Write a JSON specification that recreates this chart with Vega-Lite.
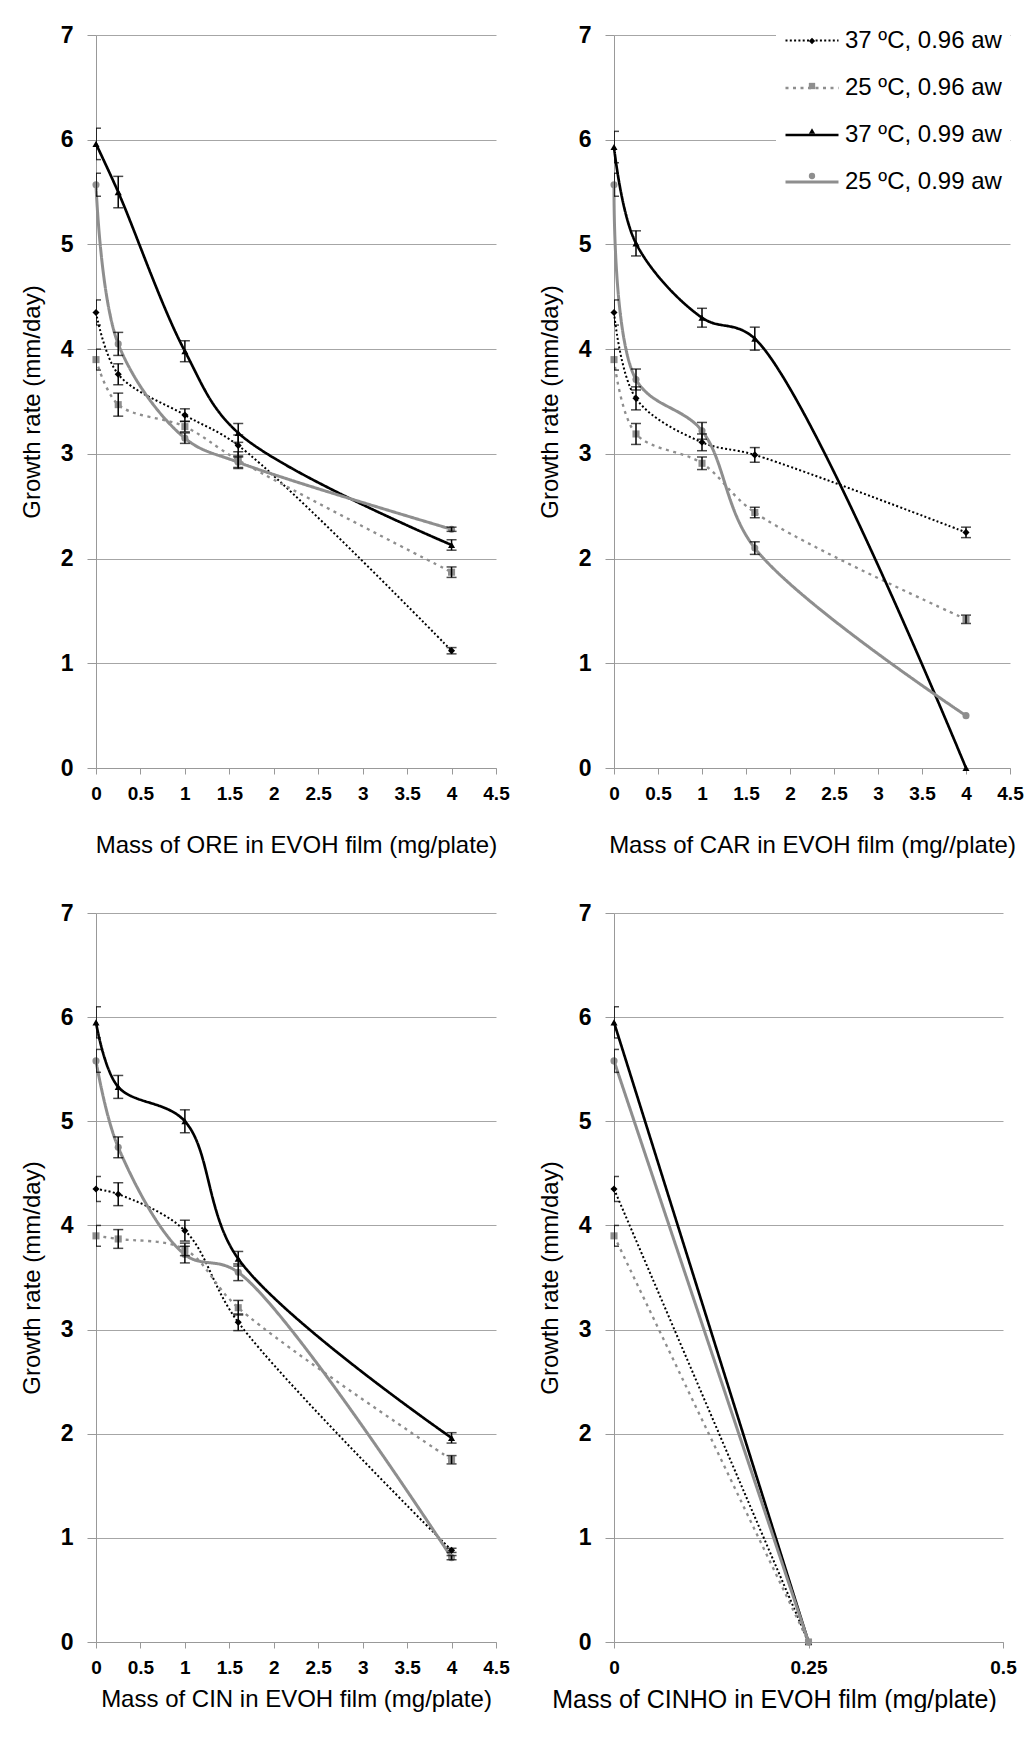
{
  "$schema": "https://vega.github.io/schema/vega-lite/v6.json",
  "background": "white",
  "padding": {"left": 20, "top": 5, "right": 0, "bottom": 0},
  "datasets": {
    "growth": [
      {"panel": "ORE", "series": "37 ºC, 0.96 aw", "mass": 0, "rate": 4.35, "err": 0.12},
      {"panel": "ORE", "series": "37 ºC, 0.96 aw", "mass": 0.25, "rate": 3.76, "err": 0.10},
      {"panel": "ORE", "series": "37 ºC, 0.96 aw", "mass": 1, "rate": 3.37, "err": 0.06},
      {"panel": "ORE", "series": "37 ºC, 0.96 aw", "mass": 1.6, "rate": 3.08, "err": 0.10},
      {"panel": "ORE", "series": "37 ºC, 0.96 aw", "mass": 4, "rate": 1.12, "err": 0.03},
      {"panel": "ORE", "series": "25 ºC, 0.96 aw", "mass": 0, "rate": 3.90, "err": 0.10},
      {"panel": "ORE", "series": "25 ºC, 0.96 aw", "mass": 0.25, "rate": 3.47, "err": 0.11},
      {"panel": "ORE", "series": "25 ºC, 0.96 aw", "mass": 1, "rate": 3.26, "err": 0.05},
      {"panel": "ORE", "series": "25 ºC, 0.96 aw", "mass": 1.6, "rate": 2.94, "err": 0.08},
      {"panel": "ORE", "series": "25 ºC, 0.96 aw", "mass": 4, "rate": 1.87, "err": 0.05},
      {"panel": "ORE", "series": "37 ºC, 0.99 aw", "mass": 0, "rate": 5.96, "err": 0.15},
      {"panel": "ORE", "series": "37 ºC, 0.99 aw", "mass": 0.25, "rate": 5.50, "err": 0.15},
      {"panel": "ORE", "series": "37 ºC, 0.99 aw", "mass": 1, "rate": 3.98, "err": 0.10},
      {"panel": "ORE", "series": "37 ºC, 0.99 aw", "mass": 1.6, "rate": 3.20, "err": 0.09},
      {"panel": "ORE", "series": "37 ºC, 0.99 aw", "mass": 4, "rate": 2.13, "err": 0.05},
      {"panel": "ORE", "series": "25 ºC, 0.99 aw", "mass": 0, "rate": 5.57, "err": 0.11},
      {"panel": "ORE", "series": "25 ºC, 0.99 aw", "mass": 0.25, "rate": 4.05, "err": 0.11},
      {"panel": "ORE", "series": "25 ºC, 0.99 aw", "mass": 1, "rate": 3.15, "err": 0.05},
      {"panel": "ORE", "series": "25 ºC, 0.99 aw", "mass": 1.6, "rate": 2.92, "err": 0.05},
      {"panel": "ORE", "series": "25 ºC, 0.99 aw", "mass": 4, "rate": 2.28, "err": 0.02},

      {"panel": "CAR", "series": "37 ºC, 0.96 aw", "mass": 0, "rate": 4.35, "err": 0.12},
      {"panel": "CAR", "series": "37 ºC, 0.96 aw", "mass": 0.25, "rate": 3.53, "err": 0.11},
      {"panel": "CAR", "series": "37 ºC, 0.96 aw", "mass": 1, "rate": 3.11, "err": 0.08},
      {"panel": "CAR", "series": "37 ºC, 0.96 aw", "mass": 1.6, "rate": 2.99, "err": 0.07},
      {"panel": "CAR", "series": "37 ºC, 0.96 aw", "mass": 4, "rate": 2.25, "err": 0.05},
      {"panel": "CAR", "series": "25 ºC, 0.96 aw", "mass": 0, "rate": 3.90, "err": 0.10},
      {"panel": "CAR", "series": "25 ºC, 0.96 aw", "mass": 0.25, "rate": 3.19, "err": 0.10},
      {"panel": "CAR", "series": "25 ºC, 0.96 aw", "mass": 1, "rate": 2.91, "err": 0.06},
      {"panel": "CAR", "series": "25 ºC, 0.96 aw", "mass": 1.6, "rate": 2.44, "err": 0.05},
      {"panel": "CAR", "series": "25 ºC, 0.96 aw", "mass": 4, "rate": 1.42, "err": 0.04},
      {"panel": "CAR", "series": "37 ºC, 0.99 aw", "mass": 0, "rate": 5.93, "err": 0.15},
      {"panel": "CAR", "series": "37 ºC, 0.99 aw", "mass": 0.25, "rate": 5.01, "err": 0.12},
      {"panel": "CAR", "series": "37 ºC, 0.99 aw", "mass": 1, "rate": 4.30, "err": 0.09},
      {"panel": "CAR", "series": "37 ºC, 0.99 aw", "mass": 1.6, "rate": 4.10, "err": 0.11},
      {"panel": "CAR", "series": "37 ºC, 0.99 aw", "mass": 4, "rate": 0, "err": 0},
      {"panel": "CAR", "series": "25 ºC, 0.99 aw", "mass": 0, "rate": 5.57, "err": 0.11},
      {"panel": "CAR", "series": "25 ºC, 0.99 aw", "mass": 0.25, "rate": 3.71, "err": 0.10},
      {"panel": "CAR", "series": "25 ºC, 0.99 aw", "mass": 1, "rate": 3.22, "err": 0.08},
      {"panel": "CAR", "series": "25 ºC, 0.99 aw", "mass": 1.6, "rate": 2.10, "err": 0.06},
      {"panel": "CAR", "series": "25 ºC, 0.99 aw", "mass": 4, "rate": 0.50, "err": 0},

      {"panel": "CIN", "series": "37 ºC, 0.96 aw", "mass": 0, "rate": 4.35, "err": 0.12},
      {"panel": "CIN", "series": "37 ºC, 0.96 aw", "mass": 0.25, "rate": 4.30, "err": 0.11},
      {"panel": "CIN", "series": "37 ºC, 0.96 aw", "mass": 1, "rate": 3.95, "err": 0.10},
      {"panel": "CIN", "series": "37 ºC, 0.96 aw", "mass": 1.6, "rate": 3.07, "err": 0.08},
      {"panel": "CIN", "series": "37 ºC, 0.96 aw", "mass": 4, "rate": 0.88, "err": 0.02},
      {"panel": "CIN", "series": "25 ºC, 0.96 aw", "mass": 0, "rate": 3.90, "err": 0.10},
      {"panel": "CIN", "series": "25 ºC, 0.96 aw", "mass": 0.25, "rate": 3.87, "err": 0.09},
      {"panel": "CIN", "series": "25 ºC, 0.96 aw", "mass": 1, "rate": 3.77, "err": 0.06},
      {"panel": "CIN", "series": "25 ºC, 0.96 aw", "mass": 1.6, "rate": 3.21, "err": 0.07},
      {"panel": "CIN", "series": "25 ºC, 0.96 aw", "mass": 4, "rate": 1.75, "err": 0.04},
      {"panel": "CIN", "series": "37 ºC, 0.99 aw", "mass": 0, "rate": 5.95, "err": 0.15},
      {"panel": "CIN", "series": "37 ºC, 0.99 aw", "mass": 0.25, "rate": 5.33, "err": 0.11},
      {"panel": "CIN", "series": "37 ºC, 0.99 aw", "mass": 1, "rate": 5.00, "err": 0.11},
      {"panel": "CIN", "series": "37 ºC, 0.99 aw", "mass": 1.6, "rate": 3.68, "err": 0.07},
      {"panel": "CIN", "series": "37 ºC, 0.99 aw", "mass": 4, "rate": 1.96, "err": 0.05},
      {"panel": "CIN", "series": "25 ºC, 0.99 aw", "mass": 0, "rate": 5.58, "err": 0.11},
      {"panel": "CIN", "series": "25 ºC, 0.99 aw", "mass": 0.25, "rate": 4.75, "err": 0.10},
      {"panel": "CIN", "series": "25 ºC, 0.99 aw", "mass": 1, "rate": 3.72, "err": 0.08},
      {"panel": "CIN", "series": "25 ºC, 0.99 aw", "mass": 1.6, "rate": 3.55, "err": 0.08},
      {"panel": "CIN", "series": "25 ºC, 0.99 aw", "mass": 4, "rate": 0.81, "err": 0.02},

      {"panel": "CINHO", "series": "37 ºC, 0.96 aw", "mass": 0, "rate": 4.35, "err": 0.12},
      {"panel": "CINHO", "series": "37 ºC, 0.96 aw", "mass": 0.25, "rate": 0, "err": 0},
      {"panel": "CINHO", "series": "25 ºC, 0.96 aw", "mass": 0, "rate": 3.90, "err": 0.10},
      {"panel": "CINHO", "series": "25 ºC, 0.96 aw", "mass": 0.25, "rate": 0, "err": 0},
      {"panel": "CINHO", "series": "37 ºC, 0.99 aw", "mass": 0, "rate": 5.95, "err": 0.15},
      {"panel": "CINHO", "series": "37 ºC, 0.99 aw", "mass": 0.25, "rate": 0, "err": 0},
      {"panel": "CINHO", "series": "25 ºC, 0.99 aw", "mass": 0, "rate": 5.58, "err": 0.11},
      {"panel": "CINHO", "series": "25 ºC, 0.99 aw", "mass": 0.25, "rate": 0, "err": 0}
    ]
  },
  "data": {"name": "growth"},
  "columns": 2,
  "spacing": {"column": 28, "row": 45},
  "resolve": {
    "scale": {"x": "independent"},
    "legend": {"stroke": "independent", "strokeDash": "independent", "strokeWidth": "independent", "shape": "independent", "fill": "independent"}
  },
  "concat": [
    {
      "width": 400, "height": 733,
      "transform": [{"filter": "datum.panel === 'ORE'"}],
      "encoding": {
        "x": {"field": "mass", "type": "quantitative", "scale": {"domain": [0, 4.5], "nice": false}, "axis": {"values": [0, 0.5, 1, 1.5, 2, 2.5, 3, 3.5, 4, 4.5], "format": ".1~f", "title": "Mass of ORE in EVOH film (mg/plate)"}},
        "y": {"field": "rate", "type": "quantitative", "scale": {"domain": [0, 7], "nice": false}, "axis": {"values": [0, 1, 2, 3, 4, 5, 6, 7], "format": "d", "title": "Growth rate (mm/day)"}}
      },
      "layer": [
        {
          "mark": {"type": "line", "interpolate": "catmull-rom"},
          "encoding": {
            "stroke": {"field": "series", "type": "nominal", "scale": {"domain": ["37 ºC, 0.96 aw", "25 ºC, 0.96 aw", "37 ºC, 0.99 aw", "25 ºC, 0.99 aw"], "range": ["#000000", "#8e8e8e", "#000000", "#8e8e8e"]}, "legend": null},
            "strokeDash": {"field": "series", "type": "nominal", "scale": {"domain": ["37 ºC, 0.96 aw", "25 ºC, 0.96 aw", "37 ºC, 0.99 aw", "25 ºC, 0.99 aw"], "range": [[2, 2.3], [3, 4.5], [1, 0], [1, 0]]}, "legend": null},
            "strokeWidth": {"field": "series", "type": "ordinal", "scale": {"domain": ["37 ºC, 0.96 aw", "25 ºC, 0.96 aw", "37 ºC, 0.99 aw", "25 ºC, 0.99 aw"], "range": [2, 3, 2, 1.5]}, "legend": null}
          }
        },
        {
          "mark": {"type": "point", "filled": true, "size": 50, "opacity": 1, "strokeWidth": 0},
          "encoding": {
            "shape": {"field": "series", "type": "nominal", "scale": {"domain": ["25 ºC, 0.99 aw", "37 ºC, 0.99 aw", "25 ºC, 0.96 aw", "37 ºC, 0.96 aw"], "range": ["circle", "triangle-up", "square", "diamond"]}, "legend": null},
            "fill": {"field": "series", "type": "nominal", "scale": {"domain": ["25 ºC, 0.99 aw", "37 ºC, 0.99 aw", "25 ºC, 0.96 aw", "37 ºC, 0.96 aw"], "range": ["#8e8e8e", "#000000", "#8e8e8e", "#000000"]}, "legend": null}
          }
        },
        {
          "transform": [{"filter": "datum.err > 0"}],
          "mark": {"type": "errorbar", "ticks": true, "size": 10, "thickness": 1.5, "color": "black", "clip": true},
          "encoding": {"yError": {"field": "err"}}
        }
      ]
    },
    {
      "width": 396, "height": 733,
      "transform": [{"filter": "datum.panel === 'CAR'"}],
      "encoding": {
        "x": {"field": "mass", "type": "quantitative", "scale": {"domain": [0, 4.5], "nice": false}, "axis": {"values": [0, 0.5, 1, 1.5, 2, 2.5, 3, 3.5, 4, 4.5], "format": ".1~f", "title": "Mass of CAR in EVOH film (mg//plate)"}},
        "y": {"field": "rate", "type": "quantitative", "scale": {"domain": [0, 7], "nice": false}, "axis": {"values": [0, 1, 2, 3, 4, 5, 6, 7], "format": "d", "title": "Growth rate (mm/day)"}}
      },
      "layer": [
        {
          "mark": {"type": "line", "interpolate": "catmull-rom"},
          "encoding": {
            "stroke": {"field": "series", "type": "nominal", "scale": {"domain": ["37 ºC, 0.96 aw", "25 ºC, 0.96 aw", "37 ºC, 0.99 aw", "25 ºC, 0.99 aw"], "range": ["#000000", "#8e8e8e", "#000000", "#8e8e8e"]},
              "legend": {"orient": "none", "legendX": 162, "legendY": -30, "title": null, "symbolType": "stroke", "symbolSize": 2809, "labelFontSize": 24, "labelFont": "Liberation Sans", "labelColor": "black", "labelOffset": 5, "labelLimit": 400, "rowPadding": 7, "padding": 8, "fillColor": "white", "zindex": 1}},
            "strokeDash": {"field": "series", "type": "nominal", "scale": {"domain": ["37 ºC, 0.96 aw", "25 ºC, 0.96 aw", "37 ºC, 0.99 aw", "25 ºC, 0.99 aw"], "range": [[2, 2.3], [3, 4.5], [1, 0], [1, 0]]},
              "legend": {"orient": "none", "legendX": 162, "legendY": -30, "title": null, "symbolType": "stroke", "symbolSize": 2809, "labelFontSize": 24, "labelFont": "Liberation Sans", "labelColor": "black", "labelOffset": 5, "labelLimit": 400, "rowPadding": 7, "padding": 8, "fillColor": "white", "zindex": 1}},
            "strokeWidth": {"field": "series", "type": "ordinal", "scale": {"domain": ["37 ºC, 0.96 aw", "25 ºC, 0.96 aw", "37 ºC, 0.99 aw", "25 ºC, 0.99 aw"], "range": [2, 3, 2, 1.5]},
              "legend": {"orient": "none", "legendX": 162, "legendY": -30, "title": null, "symbolType": "stroke", "symbolSize": 2809, "labelFontSize": 24, "labelFont": "Liberation Sans", "labelColor": "black", "labelOffset": 5, "labelLimit": 400, "rowPadding": 7, "padding": 8, "fillColor": "white", "zindex": 1}}
          }
        },
        {
          "mark": {"type": "point", "filled": true, "size": 50, "opacity": 1, "strokeWidth": 0},
          "encoding": {
            "shape": {"field": "series", "type": "nominal", "scale": {"domain": ["25 ºC, 0.99 aw", "37 ºC, 0.99 aw", "25 ºC, 0.96 aw", "37 ºC, 0.96 aw"], "range": ["circle", "triangle-up", "square", "diamond"]},
              "legend": {"orient": "none", "legendX": 186, "legendY": -6, "values": ["37 ºC, 0.96 aw", "25 ºC, 0.96 aw", "37 ºC, 0.99 aw", "25 ºC, 0.99 aw"], "title": null, "symbolSize": 40, "symbolStrokeWidth": 0, "labelFontSize": 24, "labelFont": "Liberation Sans", "labelExpr": "' '", "labelOpacity": 0, "labelLimit": 400, "rowPadding": 21, "padding": 0, "zindex": 2}},
            "fill": {"field": "series", "type": "nominal", "scale": {"domain": ["25 ºC, 0.99 aw", "37 ºC, 0.99 aw", "25 ºC, 0.96 aw", "37 ºC, 0.96 aw"], "range": ["#8e8e8e", "#000000", "#8e8e8e", "#000000"]},
              "legend": {"orient": "none", "legendX": 186, "legendY": -6, "values": ["37 ºC, 0.96 aw", "25 ºC, 0.96 aw", "37 ºC, 0.99 aw", "25 ºC, 0.99 aw"], "title": null, "symbolSize": 40, "symbolStrokeWidth": 0, "labelFontSize": 24, "labelFont": "Liberation Sans", "labelExpr": "' '", "labelOpacity": 0, "labelLimit": 400, "rowPadding": 21, "padding": 0, "zindex": 2}}
          }
        },
        {
          "transform": [{"filter": "datum.err > 0"}],
          "mark": {"type": "errorbar", "ticks": true, "size": 10, "thickness": 1.5, "color": "black", "clip": true},
          "encoding": {"yError": {"field": "err"}}
        }
      ]
    },
    {
      "width": 400, "height": 729,
      "transform": [{"filter": "datum.panel === 'CIN'"}],
      "encoding": {
        "x": {"field": "mass", "type": "quantitative", "scale": {"domain": [0, 4.5], "nice": false}, "axis": {"values": [0, 0.5, 1, 1.5, 2, 2.5, 3, 3.5, 4, 4.5], "format": ".1~f", "title": "Mass of CIN in EVOH film (mg/plate)", "titlePadding": 10}},
        "y": {"field": "rate", "type": "quantitative", "scale": {"domain": [0, 7], "nice": false}, "axis": {"values": [0, 1, 2, 3, 4, 5, 6, 7], "format": "d", "title": "Growth rate (mm/day)"}}
      },
      "layer": [
        {
          "mark": {"type": "line", "interpolate": "catmull-rom"},
          "encoding": {
            "stroke": {"field": "series", "type": "nominal", "scale": {"domain": ["37 ºC, 0.96 aw", "25 ºC, 0.96 aw", "37 ºC, 0.99 aw", "25 ºC, 0.99 aw"], "range": ["#000000", "#8e8e8e", "#000000", "#8e8e8e"]}, "legend": null},
            "strokeDash": {"field": "series", "type": "nominal", "scale": {"domain": ["37 ºC, 0.96 aw", "25 ºC, 0.96 aw", "37 ºC, 0.99 aw", "25 ºC, 0.99 aw"], "range": [[2, 2.3], [3, 4.5], [1, 0], [1, 0]]}, "legend": null},
            "strokeWidth": {"field": "series", "type": "ordinal", "scale": {"domain": ["37 ºC, 0.96 aw", "25 ºC, 0.96 aw", "37 ºC, 0.99 aw", "25 ºC, 0.99 aw"], "range": [2, 3, 2, 1.5]}, "legend": null}
          }
        },
        {
          "mark": {"type": "point", "filled": true, "size": 50, "opacity": 1, "strokeWidth": 0},
          "encoding": {
            "shape": {"field": "series", "type": "nominal", "scale": {"domain": ["25 ºC, 0.99 aw", "37 ºC, 0.99 aw", "25 ºC, 0.96 aw", "37 ºC, 0.96 aw"], "range": ["circle", "triangle-up", "square", "diamond"]}, "legend": null},
            "fill": {"field": "series", "type": "nominal", "scale": {"domain": ["25 ºC, 0.99 aw", "37 ºC, 0.99 aw", "25 ºC, 0.96 aw", "37 ºC, 0.96 aw"], "range": ["#8e8e8e", "#000000", "#8e8e8e", "#000000"]}, "legend": null}
          }
        },
        {
          "transform": [{"filter": "datum.err > 0"}],
          "mark": {"type": "errorbar", "ticks": true, "size": 10, "thickness": 1.5, "color": "black", "clip": true},
          "encoding": {"yError": {"field": "err"}}
        }
      ]
    },
    {
      "width": 389, "height": 729,
      "transform": [{"filter": "datum.panel === 'CINHO'"}],
      "encoding": {
        "x": {"field": "mass", "type": "quantitative", "scale": {"domain": [0, 0.5], "nice": false}, "axis": {"values": [0, 0.25, 0.5], "format": ".2~f", "title": "Mass of CINHO  in EVOH film (mg/plate)", "titleFontSize": 25, "titlePadding": 10, "titleX": 160, "titleAlign": "center"}},
        "y": {"field": "rate", "type": "quantitative", "scale": {"domain": [0, 7], "nice": false}, "axis": {"values": [0, 1, 2, 3, 4, 5, 6, 7], "format": "d", "title": "Growth rate (mm/day)"}}
      },
      "layer": [
        {
          "mark": {"type": "line", "interpolate": "catmull-rom"},
          "encoding": {
            "stroke": {"field": "series", "type": "nominal", "scale": {"domain": ["37 ºC, 0.96 aw", "25 ºC, 0.96 aw", "37 ºC, 0.99 aw", "25 ºC, 0.99 aw"], "range": ["#000000", "#8e8e8e", "#000000", "#8e8e8e"]}, "legend": null},
            "strokeDash": {"field": "series", "type": "nominal", "scale": {"domain": ["37 ºC, 0.96 aw", "25 ºC, 0.96 aw", "37 ºC, 0.99 aw", "25 ºC, 0.99 aw"], "range": [[2, 2.3], [3, 4.5], [1, 0], [1, 0]]}, "legend": null},
            "strokeWidth": {"field": "series", "type": "ordinal", "scale": {"domain": ["37 ºC, 0.96 aw", "25 ºC, 0.96 aw", "37 ºC, 0.99 aw", "25 ºC, 0.99 aw"], "range": [2, 3, 2, 1.5]}, "legend": null}
          }
        },
        {
          "mark": {"type": "point", "filled": true, "size": 50, "opacity": 1, "strokeWidth": 0},
          "encoding": {
            "shape": {"field": "series", "type": "nominal", "scale": {"domain": ["25 ºC, 0.99 aw", "37 ºC, 0.99 aw", "25 ºC, 0.96 aw", "37 ºC, 0.96 aw"], "range": ["circle", "triangle-up", "square", "diamond"]}, "legend": null},
            "fill": {"field": "series", "type": "nominal", "scale": {"domain": ["25 ºC, 0.99 aw", "37 ºC, 0.99 aw", "25 ºC, 0.96 aw", "37 ºC, 0.96 aw"], "range": ["#8e8e8e", "#000000", "#8e8e8e", "#000000"]}, "legend": null}
          }
        },
        {
          "transform": [{"filter": "datum.err > 0"}],
          "mark": {"type": "errorbar", "ticks": true, "size": 10, "thickness": 1.5, "color": "black", "clip": true},
          "encoding": {"yError": {"field": "err"}}
        }
      ]
    }
  ],
  "config": {
    "view": {"stroke": null},
    "font": "Liberation Sans",
    "axis": {
      "labelFont": "Liberation Sans", "labelFontWeight": "bold", "labelColor": "black",
      "titleFont": "Liberation Sans", "titleFontWeight": "normal", "titleColor": "black", "titleFontSize": 24,
      "domainColor": "#999999", "tickColor": "#999999", "gridColor": "#a6a6a6", "domainWidth": 1, "tickWidth": 1, "gridWidth": 1
    },
    "axisX": {"grid": false, "labelFontSize": 19, "tickSize": 6, "labelPadding": 10, "titlePadding": 30, "labelFlush": false},
    "axisY": {"grid": true, "labelFontSize": 23, "tickSize": 9, "labelPadding": 14, "titlePadding": 16}
  }
}
